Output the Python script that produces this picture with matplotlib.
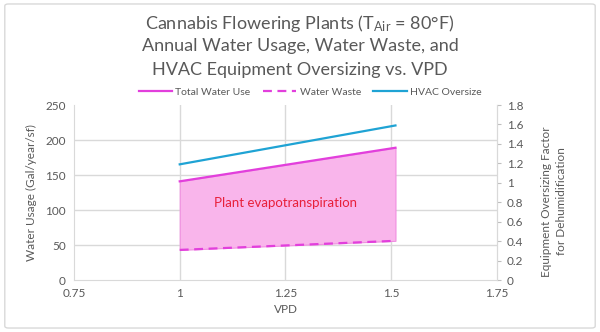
import matplotlib.pyplot as plt
from matplotlib.patches import FancyBboxPatch
from matplotlib.lines import Line2D

plt.rcParams['font.family'] = ['Lato', 'DejaVu Sans']
plt.rcParams['mathtext.default'] = 'regular'

# water use / waste (left axis) and HVAC oversize factor (right axis) vs VPD
vpd = [1.0, 1.51]
total_water = [141, 189]
water_waste = [43, 56]
hvac_oversize = [1.19, 1.59]

x_ticks = [0.75, 1, 1.25, 1.5, 1.75]
x_labels = ['0.75', '1', '1.25', '1.5', '1.75']
y_ticks = [0, 50, 100, 150, 200, 250]
y2_ticks = [0, 0.2, 0.4, 0.6, 0.8, 1.0, 1.2, 1.4, 1.6, 1.8]
y2_labels = ['0', '0.2', '0.4', '0.6', '0.8', '1', '1.2', '1.4', '1.6', '1.8']

txt = '#595959'
grid = '#d9d9d9'
magenta = '#e23fdc'
blue = '#1fa3d4'

fig = plt.figure(figsize=(6, 3.32), dpi=100)
# light rounded chart border
fig.patches.append(FancyBboxPatch((0.008, 0.012), 0.984, 0.976,
                                  boxstyle='round,pad=0,rounding_size=0.006',
                                  transform=fig.transFigure, facecolor='none',
                                  edgecolor=grid, lw=1, zorder=-1))

ax = fig.add_axes([0.1233, 0.1566, 0.705, 0.527])
ax.set_facecolor('none')
ax.set_xlim(0.75, 1.75)
ax.set_ylim(0, 250)
ax.set_xticks(x_ticks, x_labels)
ax.set_yticks(y_ticks)
for y in y_ticks[1:-1]:
    ax.axhline(y, color=grid, lw=1, zorder=0)
for x in x_ticks[1:-1]:
    ax.axvline(x, color=grid, lw=1, zorder=0)
ax.spines['top'].set_visible(False)
for s in ['left', 'bottom', 'right']:
    ax.spines[s].set_color(grid)
ax.tick_params(length=0, colors=txt, labelsize=8.5, pad=6)
ax.set_xlabel('VPD', color=txt, fontsize=8.5, labelpad=3)
ax.set_ylabel('Water Usage (Gal/year/sf)', color=txt, fontsize=8.5, labelpad=6)

ax.fill_between(vpd, water_waste, total_water, color='#f9b5eb', lw=0.8,
                edgecolor='#f08ee0', zorder=2)
ax.plot(vpd, total_water, color=magenta, lw=1.6, zorder=3)
ax.plot(vpd, water_waste, color=magenta, lw=1.6, ls=(0, (4, 2.5)), zorder=3)
ax.text(1.25, 110, 'Plant evapotranspiration', color='#e8203a', fontsize=9.5,
        ha='center', va='center', zorder=4)

ax2 = ax.twinx()
ax2.set_ylim(0, 1.8)
ax2.set_yticks(y2_ticks, y2_labels)
for s in ['top', 'left', 'bottom']:
    ax2.spines[s].set_visible(False)
ax2.spines['right'].set_color(grid)
ax2.tick_params(axis='y', length=3, color='#bfbfbf', colors=txt, labelsize=8.5, pad=4)
ax2.plot(vpd, hvac_oversize, color=blue, lw=1.6, zorder=3)
ax2.set_ylabel('Equipment Oversizing Factor\nfor Dehumidification', color=txt,
               fontsize=8.5, linespacing=1.45)
ax2.yaxis.set_label_coords(1.104, 0.45)

fig.text(0.5, 0.93, 'Cannabis Flowering Plants (T$_{Air}$ = 80°F)', ha='center',
         va='center', color=txt, fontsize=13)
fig.text(0.5, 0.86, 'Annual Water Usage, Water Waste, and', ha='center',
         va='center', color=txt, fontsize=13)
fig.text(0.5, 0.79, 'HVAC Equipment Oversizing vs. VPD', ha='center',
         va='center', color=txt, fontsize=13)

handles = [Line2D([], [], color=magenta, lw=1.6),
           Line2D([], [], color=magenta, lw=1.6, ls=(0, (4, 2.5))),
           Line2D([], [], color=blue, lw=1.6)]
fig.legend(handles, ['Total Water Use', 'Water Waste', 'HVAC Oversize'],
           loc='center', bbox_to_anchor=(0.517, 0.723), ncol=3, frameon=False,
           fontsize=7.5, labelcolor=txt, handlelength=3.2, handletextpad=0.3,
           columnspacing=1.2)

fig.savefig('out.png', dpi=100)
